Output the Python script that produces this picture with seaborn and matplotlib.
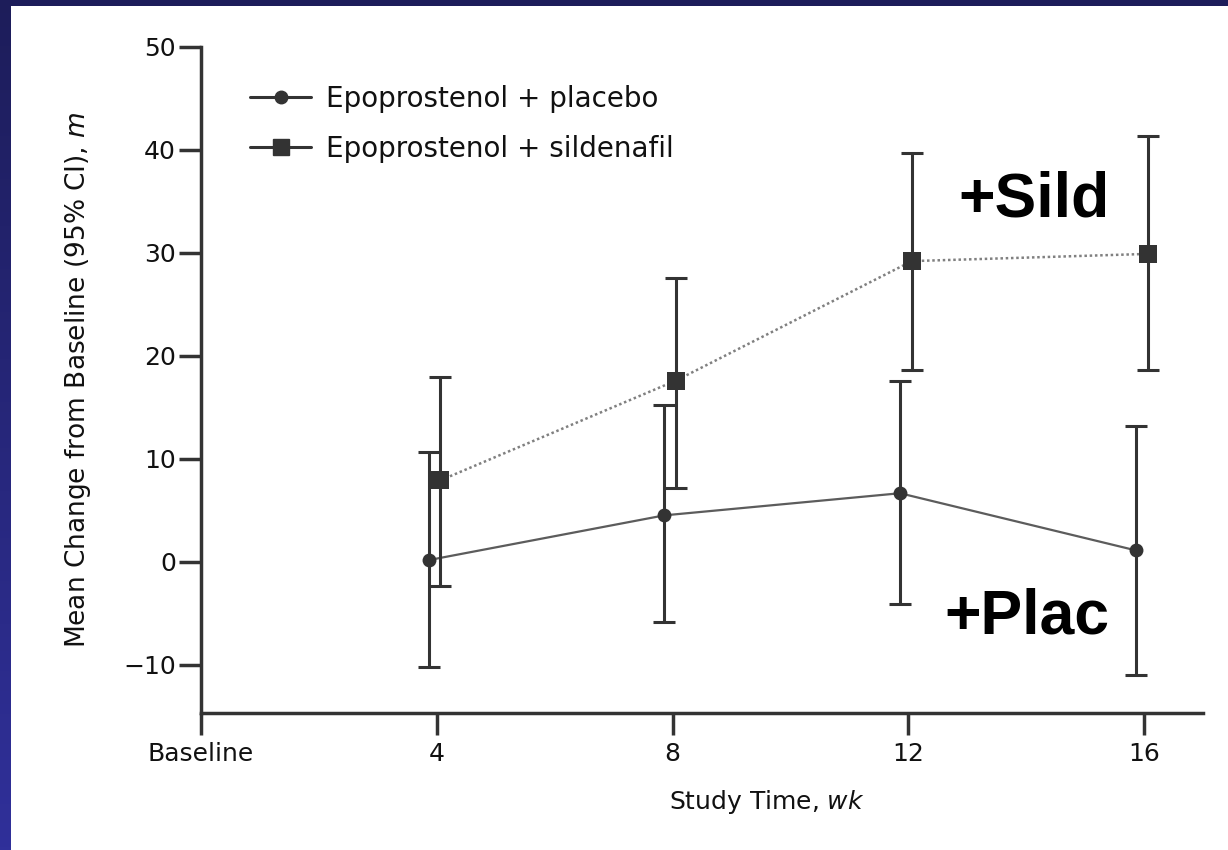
import matplotlib
matplotlib.use("Agg")
import matplotlib.pyplot as plt
import seaborn as sns
import pandas as pd
import numpy as np
from matplotlib.lines import Line2D
from matplotlib.patches import Rectangle
from matplotlib.colors import LinearSegmentedColormap

# ---------------- data ----------------
weeks = [4, 8, 12, 16]
placebo_mean = [0.15, 4.5, 6.65, 1.1]
placebo_lo = [-10.2, -5.9, -4.1, -11.0]
placebo_hi = [10.7, 15.2, 17.6, 13.2]
sild_mean = [7.9, 17.6, 29.2, 29.9]
sild_lo = [-2.4, 7.2, 18.6, 18.6]
sild_hi = [17.9, 27.6, 39.7, 41.4]
series_names = ["Epoprostenol + placebo", "Epoprostenol + sildenafil"]
xtick_vals = [0, 4, 8, 12, 16]
xtick_labels = ["Baseline", "4", "8", "12", "16"]
ytick_vals = [-10, 0, 10, 20, 30, 40, 50]

# ---------------- table ----------------
df = pd.DataFrame({
    "week": weeks * 2,
    "mean": placebo_mean + sild_mean,
    "lo": placebo_lo + sild_lo,
    "hi": placebo_hi + sild_hi,
    "series": [series_names[0]] * len(weeks) + [series_names[1]] * len(weeks),
})
dodge = {series_names[0]: -0.14, series_names[1]: 0.06}
df["x"] = df["week"] + df["series"].map(dodge)

sns.set_theme(style="white")
plt.rcParams["font.family"] = ["DejaVu Sans"]
plt.rcParams["mathtext.fontset"] = "dejavusans"

W, H = 1228, 850
fig = plt.figure(figsize=(W / 100, H / 100), dpi=100)

# background frame: navy gradient with white panel
bg = fig.add_axes([0, 0, 1, 1], zorder=-10)
grad = np.linspace(0, 1, 256).reshape(-1, 1)
cmap = LinearSegmentedColormap.from_list("frame", ["#1d1d5a", "#30309a"])
bg.imshow(grad, aspect="auto", cmap=cmap, extent=[0, 1, 0, 1], origin="upper")
bg.add_patch(Rectangle((11 / W, 0), 1, 1 - 6 / H, transform=bg.transAxes,
                       facecolor="white", edgecolor="none"))
bg.set_xlim(0, 1)
bg.set_ylim(0, 1)
bg.axis("off")

ax = fig.add_axes([201 / W, 137 / H, 1002 / W, 666 / H])
ax.set_facecolor("none")

dark = "#333333"
txt = "#111111"
pl = df[df["series"] == series_names[0]]
sd = df[df["series"] == series_names[1]]

# connecting lines
sns.lineplot(data=pl, x="x", y="mean", estimator=None, sort=True, ax=ax,
             color="#5c5c5c", linewidth=1.6, linestyle="-", legend=False, zorder=2)
sns.lineplot(data=sd, x="x", y="mean", estimator=None, sort=True, ax=ax,
             color="#808080", linewidth=1.8, linestyle=(0, (1, 1.1)), legend=False, zorder=2)

# confidence intervals
for sub in (pl, sd):
    ax.errorbar(sub["x"], sub["mean"],
                yerr=[sub["mean"] - sub["lo"], sub["hi"] - sub["mean"]],
                fmt="none", ecolor=dark, elinewidth=2.2, capsize=8, capthick=2.2, zorder=3)

# markers
sns.scatterplot(data=pl, x="x", y="mean", marker="o", s=10 ** 2, color=dark,
                edgecolor=dark, linewidth=0, ax=ax, legend=False, zorder=4)
sns.scatterplot(data=sd, x="x", y="mean", marker="s", s=13 ** 2, color=dark,
                edgecolor=dark, linewidth=0, ax=ax, legend=False, zorder=4)

# axes styling
ax.set_xlim(0, 17)
ax.set_ylim(-14.7, 50)
ax.set_xticks(xtick_vals)
ax.set_xticklabels(xtick_labels)
ax.set_yticks(ytick_vals)
for s in ("top", "right"):
    ax.spines[s].set_visible(False)
for s in ("left", "bottom"):
    ax.spines[s].set_linewidth(2.5)
    ax.spines[s].set_color(dark)
ax.tick_params(axis="both", which="major", direction="out", length=16, width=2.5,
               color=dark, labelsize=18, labelcolor=txt,
               bottom=True, left=True, top=False, right=False)
ax.tick_params(axis="y", pad=2)
ax.tick_params(axis="x", pad=5)

ax.set_ylabel("Mean Change from Baseline (95% CI), $\\mathit{m}$", fontsize=19, color=txt)
ax.yaxis.set_label_coords(-0.108, 0.5)
ax.set_xlabel("Study Time, $\\mathit{wk}$", fontsize=18, color=txt)
ax.xaxis.set_label_coords(0.565, -0.113)

# annotations
ax.text(15.42, 33.5, "+Sild", ha="right", va="baseline", fontsize=45,
        fontweight="bold", family=["Liberation Sans", "DejaVu Sans"], color="black")
ax.text(15.42, -6.93, "+Plac", ha="right", va="baseline", fontsize=45,
        fontweight="bold", family=["Liberation Sans", "DejaVu Sans"], color="black")

# legend
handles = [
    Line2D([0], [0], color=dark, lw=2.2, marker="o", markersize=9,
           markerfacecolor=dark, markeredgecolor=dark),
    Line2D([0], [0], color=dark, lw=2.2, marker="s", markersize=11,
           markerfacecolor=dark, markeredgecolor=dark),
]
ax.legend(handles, series_names, loc="upper left", bbox_to_anchor=(0.049, 0.943),
          frameon=False, fontsize=20, handlelength=2.2, handletextpad=0.55,
          labelspacing=0.78, borderpad=0, borderaxespad=0, labelcolor=txt)

fig.savefig("out.png", dpi=100)
